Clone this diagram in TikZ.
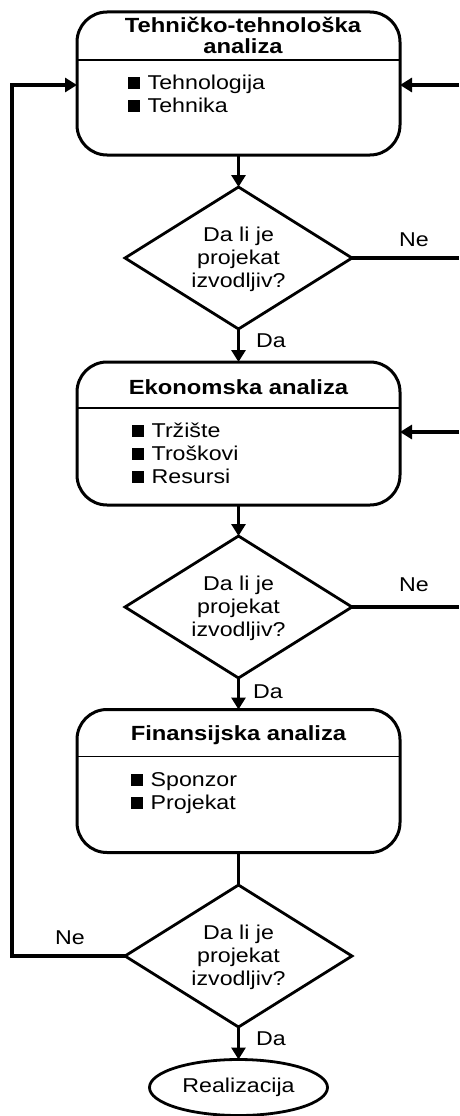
\documentclass[tikz,border=0pt]{standalone}
\usepackage{fontspec}
\setmainfont{Liberation Sans}[FakeStretch=1.16]
\usetikzlibrary{shapes.geometric,arrows.meta,calc}
\tikzset{
  box/.style={draw, line width=3pt, rounded corners=30pt, minimum width=323pt, minimum height=143pt, inner sep=0pt, outer sep=0pt},
  dia/.style={diamond, draw, line width=2.8pt, minimum width=227pt, minimum height=142pt, inner sep=0pt, outer sep=0pt},
  term/.style={ellipse, draw, line width=2.8pt, minimum width=178pt, minimum height=56pt, inner sep=0pt, outer sep=0pt},
  txt/.style={inner sep=0pt, font=\fontsize{20}{23}\selectfont},
  ttl/.style={inner sep=0pt, align=center, font=\fontsize{20.5}{21}\selectfont\bfseries},
  lst/.style={inner sep=0pt, align=left, anchor=base west, font=\fontsize{20}{23}\selectfont},
  dtext/.style={inner sep=0pt, align=center, font=\fontsize{20}{23}\selectfont},
  conn/.style={line width=3.2pt},
  arr/.style={line width=3.2pt, -{Triangle[length=12pt,width=14pt]}},
  divider/.style={line width=1.6pt}
}
\newcommand{\bsq}{\rule[0.5pt]{11.5pt}{11.5pt}\hspace{8pt}}
\begin{document}
\begin{tikzpicture}[x=1pt,y=-1pt]
\useasboundingbox (0,0) rectangle (459,1116);
% boxes
\node[box] (b1) at (238.5,83.5) {};
\node[box] (b2) at (238.5,433.5) {};
\node[box] (b3) at (238.5,781) {};
\draw[divider] ($(b1.north west)+(0,48)$) -- ($(b1.north east)+(0,48)$);
\draw[divider] ($(b2.north west)+(0,46)$) -- ($(b2.north east)+(0,46)$);
\draw[divider] ($(b3.north west)+(0,47)$) -- ($(b3.north east)+(0,47)$);
% titles
\node[ttl, anchor=base] (t1) at (243,33) {Tehničko-tehnološka};
\node[ttl, anchor=base] (t1b) at (243,54) {analiza};
\node[ttl, anchor=base] (t2) at (238.5,394) {Ekonomska analiza};
\node[ttl, anchor=base] (t3) at (238.5,740) {Finansijska analiza};
% lists (anchor base = baseline of the last line)
\node[lst] (l1) at (128,112) {\bsq Tehnologija\\\bsq Tehnika};
\node[lst] (l2) at (132,483) {\bsq Tržište\\\bsq Troškovi\\\bsq Resursi};
\node[lst] (l3) at (131,809) {\bsq Sponzor\\\bsq Projekat};
% diamonds
\node[dia] (d1) at (238.5,258) {};
\node[dia] (d2) at (238.5,607) {};
\node[dia] (d3) at (238.5,956) {};
\node[dtext] (q1) at (238.5,259) {Da li je\\projekat\\izvodljiv?};
\node[dtext] (q2) at (238.5,608) {Da li je\\projekat\\izvodljiv?};
\node[dtext] (q3) at (238.5,957) {Da li je\\projekat\\izvodljiv?};
% terminal
\node[term] (r) at (238.5,1087.5) {};
\node[txt] (rt) at (r.center) {Realizacija};
% edge coordinates
\coordinate (e1) at (459,258);
\coordinate (e2) at (459,607);
\coordinate (in1) at (459,85);
\coordinate (in2) at (459,432);
\coordinate (lb) at (12,956);
\coordinate (lt) at (12,85);
% connectors
\draw[arr] (b1.south) -- (d1.north);
\draw[arr] (d1.south) -- (b2.north);
\draw[arr] (b2.south) -- (d2.north);
\draw[arr] (d2.south) -- (b3.north);
\draw[conn] (b3.south) -- (d3.north);
\draw[arr] (d3.south) -- (r.north);
\draw[conn] (d1.east) -- (e1);
\draw[conn] (d2.east) -- (e2);
\draw[arr] (in1) -- (b1.east |- in1);
\draw[arr] (in2) -- (b2.east |- in2);
\draw[arr] (d3.west) -- (lb) -- (lt) -- (b1.west |- lt);
% labels
\node[txt, anchor=base] (ne1) at (414,246) {Ne};
\node[txt, anchor=base] (ne2) at (414,591) {Ne};
\node[txt, anchor=base] (ne3) at (70,944) {Ne};
\node[txt, anchor=base] (da1) at (271,347) {Da};
\node[txt, anchor=base] (da2) at (268,698) {Da};
\node[txt, anchor=base] (da3) at (271,1045) {Da};
\end{tikzpicture}
\end{document}
